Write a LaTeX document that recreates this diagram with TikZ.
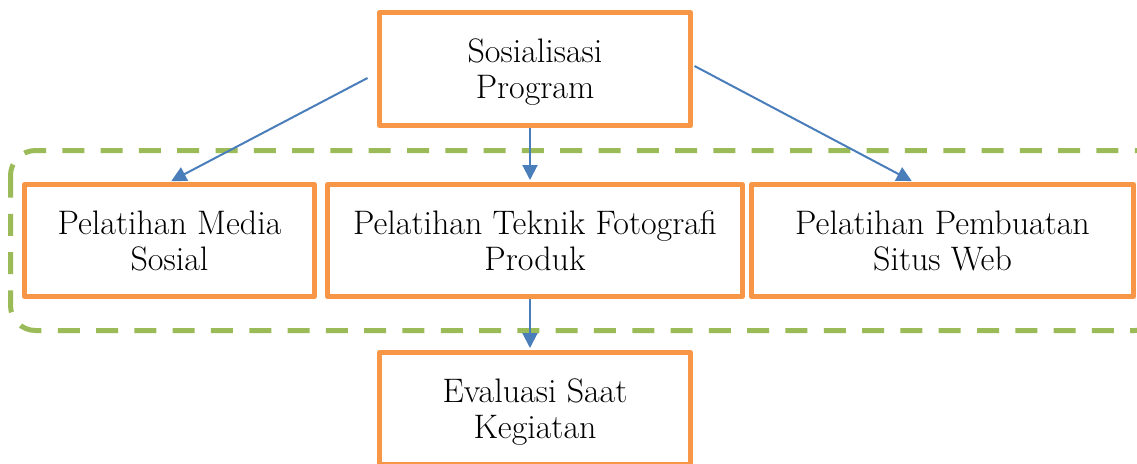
\documentclass[tikz,border=0pt]{standalone}
\usepackage{fontspec}
\usetikzlibrary{arrows.meta}
\definecolor{boxorange}{HTML}{F79646}
\definecolor{groupgreen}{HTML}{9BBB59}
\definecolor{linkblue}{HTML}{4A7EBB}
\tikzset{
  stepbox/.style={draw=boxorange, line width=5pt, line join=round, fill=white,
    inner sep=0pt, align=center, text depth=0pt, font=\fontsize{34}{36}\selectfont},
  grouping/.style={draw=groupgreen, line width=5pt, dash pattern=on 22pt off 16.3pt,
    rounded corners=25pt},
  link/.style={draw=linkblue, line width=2pt,
    -{Triangle[length=15pt, width=15pt]}, shorten >=2pt}
}
\begin{document}
\begin{tikzpicture}[x=1pt, y=-1pt]
  \useasboundingbox (0,0) rectangle (1137,463);
  \clip (0,0) rectangle (1137,463);

  % group frame around the three training activities
  \draw[grouping] (10.5,150.5) rectangle (1160,330.5);

  % activity boxes
  \node[stepbox, minimum width=311pt, minimum height=113pt] (top) at (535,69)
    {Sosialisasi\\Program};
  \node[stepbox, minimum width=290pt, minimum height=112pt] (b1) at (169.5,240.5)
    {Pelatihan Media\\Sosial};
  \node[stepbox, minimum width=415pt, minimum height=112pt] (b2) at (535,240.5)
    {Pelatihan Teknik Fotografi\\Produk};
  \node[stepbox, minimum width=382pt, minimum height=112pt] (b3) at (942.5,240.5)
    {Pelatihan Pembuatan\\Situs Web};
  \node[stepbox, minimum width=311pt, minimum height=112pt] (bot) at (535,408.5)
    {Evaluasi Saat\\Kegiatan};

  % flow connectors
  \draw[link] ([shift={(-9.5,9)}]top.west) -- ([shift={(0,0)}]b1.north);
  \draw[link] ([shift={(-5,0)}]top.south) -- ([shift={(-5,0)}]b2.north);
  \draw[link] ([shift={(1.5,-3)}]top.east) -- ([shift={(-29,0)}]b3.north);
  \draw[link] ([shift={(-5,0)}]b2.south) -- ([shift={(-5,0)}]bot.north);
\end{tikzpicture}
\end{document}
